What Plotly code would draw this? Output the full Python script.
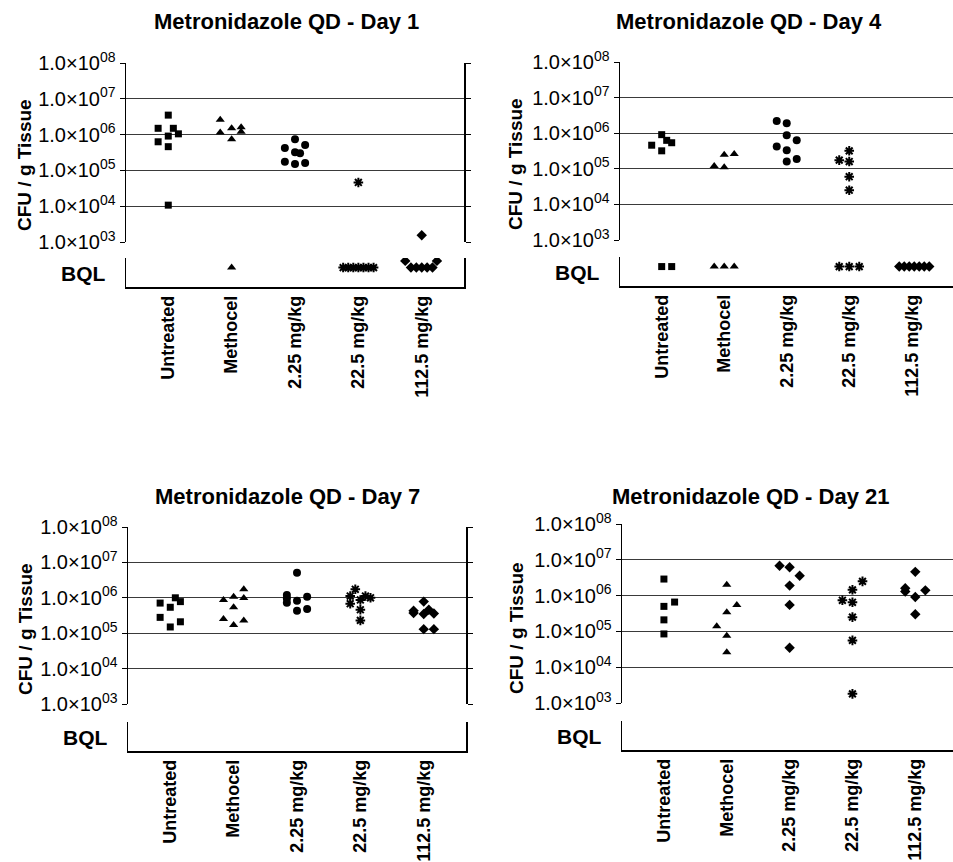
import plotly.graph_objects as go

W, H = 953, 862

categories = ["Untreated", "Methocel", "2.25 mg/kg", "22.5 mg/kg", "112.5 mg/kg"]
titles = ["Metronidazole QD - Day 1", "Metronidazole QD - Day 4",
          "Metronidazole QD - Day 7", "Metronidazole QD - Day 21"]
tick_vals = [1e3, 1e4, 1e5, 1e6, 1e7, 1e8]
tick_text = ["1.0×10<sup>03</sup>", "1.0×10<sup>04</sup>", "1.0×10<sup>05</sup>",
             "1.0×10<sup>06</sup>", "1.0×10<sup>07</sup>", "1.0×10<sup>08</sup>"]

# ---- Day 1 (CFU / g tissue), per group; jitter offsets in category units
day1_values = [
    [3.5e6, 1.5e6, 1.5e6, 9.1e5, 1.05e6, 6.3e5, 4.6e5, 1.07e4],
    [2.6e6, 1.15e6, 1.5e6, 7.4e5, 1.6e6, 1.2e6],
    [7.4e5, 4.2e5, 5.1e5, 3.2e5, 3.0e5, 1.74e5, 1.5e5, 1.6e5],
    [4.6e4],
    [1.55e3],
]
day1_offsets = [
    [0, -0.16, 0.08, 0, 0.16, -0.16, 0, 0],
    [-0.18, -0.18, 0, 0, 0.15, 0.15],
    [0, -0.16, 0.16, 0, 0.08, -0.16, 0, 0.16],
    [0],
    [0],
]
# BQL points: level inside the BQL strip (0 = bottom, 1 = top)
day1_bql = [[], [0.67], [], [0.67] * 7, [0.9, 0.67, 0.67, 0.67, 0.67, 0.67, 0.9]]
day1_bql_offsets = [[], [0], [], [-0.24, -0.16, -0.08, 0, 0.08, 0.16, 0.24],
                    [-0.26, -0.17, -0.085, 0, 0.085, 0.17, 0.24]]

# ---- Day 4
day4_values = [
    [9.1e5, 4.6e5, 6.3e5, 5.4e5, 3.2e5],
    [1.2e5, 1.1e5, 2.5e5, 2.6e5],
    [2.2e6, 1.9e6, 8.7e5, 4.2e5, 6.3e5, 3.3e5, 1.6e5, 1.9e5],
    [3.2e5, 1.75e5, 1.6e5, 6.0e4, 2.5e4],
    [],
]
day4_offsets = [
    [0, -0.16, 0.08, 0.16, 0],
    [-0.16, 0, 0, 0.16],
    [-0.16, 0, 0, -0.16, 0.16, 0, 0, 0.16],
    [0, -0.16, 0, 0, 0],
    [],
]
day4_bql = [[0.67] * 2, [0.67] * 3, [], [0.67] * 3, [0.67] * 7]
day4_bql_offsets = [[0, 0.16], [-0.16, 0, 0.16], [], [-0.16, 0, 0.16],
                    [-0.2, -0.12, -0.04, 0.04, 0.12, 0.2, 0.28]]

# ---- Day 7
day7_values = [
    [7.1e5, 1.0e6, 7.8e5, 5.4e5, 2.8e5, 2.1e5, 1.5e5],
    [8.7e5, 1.07e6, 1.74e6, 9.8e5, 5.4e5, 2.5e5, 1.7e5, 2.3e5],
    [5.1e6, 1.2e6, 9.5e5, 7.2e5, 8.3e5, 1.07e6, 4.3e5, 4.8e5],
    [1.74e6, 1.12e6, 8.7e5, 1.12e6, 1.0e6, 6.8e5, 4.6e5, 2.3e5],
    [4.3e5, 3.7e5, 7.8e5, 4.6e5, 3.5e5, 3.6e5, 1.3e5, 1.3e5],
]
day7_offsets = [
    [-0.16, 0.08, 0.16, 0, -0.16, 0.16, 0],
    [-0.16, 0, 0.16, 0.16, 0, -0.16, 0, 0.16],
    [0, -0.16, -0.16, -0.16, 0, 0.16, 0, 0.16],
    [-0.08, -0.16, 0, 0.08, 0.16, -0.16, 0, 0],
    [-0.16, -0.16, 0, 0.08, 0, 0.16, 0, 0.16],
]
day7_bql = [[], [], [], [], []]
day7_bql_offsets = [[], [], [], [], []]

# ---- Day 21
day21_values = [
    [2.9e6, 5.0e5, 6.6e5, 2.1e5, 8.5e4],
    [2.0e6, 3.4e5, 5.5e5, 1.4e5, 7.6e4, 2.6e4],
    [6.8e6, 6.2e6, 3.6e6, 1.9e6, 5.5e5, 3.5e4],
    [2.5e6, 1.45e6, 7.4e5, 6.5e5, 2.5e5, 5.6e4, 1.8e3],
    [4.6e6, 1.6e6, 1.3e6, 1.4e6, 9.1e5, 3.0e5],
]
day21_offsets = [
    [0, 0, 0.17, 0, 0],
    [0, 0, 0.16, -0.16, 0, 0],
    [-0.16, 0, 0.16, 0, 0, 0],
    [0.16, 0, -0.16, 0, 0, 0, 0],
    [0, -0.16, -0.16, 0.16, 0, 0],
]
day21_bql = [[], [], [], [], []]
day21_bql_offsets = [[], [], [], [], []]

symbols_std = ["square", "triangle-up", "circle", "asterisk-open", "diamond"]
symbols_d21 = ["square", "triangle-up", "diamond", "asterisk-open", "diamond"]

panels = [
    (day1_values, day1_offsets, day1_bql, day1_bql_offsets, symbols_std),
    (day4_values, day4_offsets, day4_bql, day4_bql_offsets, symbols_std),
    (day7_values, day7_offsets, day7_bql, day7_bql_offsets, symbols_std),
    (day21_values, day21_offsets, day21_bql, day21_bql_offsets, symbols_d21),
]

# ---- layout geometry (pixels)
# left, right, top(1e8), bottom(1e3), bql_top, bql_bottom, xrange_right, mirror
geo = [
    (126, 464, 63, 242, 258, 287, 4.667, True),
    (620, 953, 62, 240, 257, 286, 4.66, False),
    (128, 466, 527, 704, 722, 751, 4.667, True),
    (622, 953, 524, 703, 721, 750, 4.6, False),
]
title_pos = [(286, 22), (749, 22), (287, 497), (751, 497)]
ylab_pos = [(24, 165), (515, 164), (25, 629), (516, 628)]


def px(v):
    return v / W


def py(v):
    return 1 - v / H


sizes = {"square": 7, "triangle-up": 8, "circle": 8, "asterisk-open": 8, "diamond": 8}

fig = go.Figure()
layout = dict(width=W, height=H, margin=dict(l=0, r=0, t=0, b=0, pad=0), autosize=False,
              template="none",
              paper_bgcolor="white", plot_bgcolor="white", showlegend=False,
              font=dict(family="Liberation Sans, Arial, sans-serif", color="black"))
annotations = []

for i, (vals, offs, bql, bqloffs, syms) in enumerate(panels):
    left, right, top, bot, btop, bbot, xr, mirror = geo[i]
    xid = i + 1
    yu = 2 * i + 1
    yb = 2 * i + 2
    xname = "x" if xid == 1 else f"x{xid}"
    yuname = "y" if yu == 1 else f"y{yu}"
    ybname = f"y{yb}"

    # register the BQL strip even when it has no points
    fig.add_trace(go.Scatter(x=[None], y=[None], mode="markers",
                             xaxis=xname, yaxis=ybname, hoverinfo="skip"))
    for g in range(len(categories)):
        sym = syms[g]
        mk = dict(symbol=sym, size=sizes[sym], color="black",
                  line=dict(color="black", width=2 if sym.startswith("asterisk") else 0))
        if vals[g]:
            fig.add_trace(go.Scatter(
                x=[g + o for o in offs[g]], y=vals[g], mode="markers",
                marker=mk, xaxis=xname, yaxis=yuname, hoverinfo="skip"))
        if bql[g]:
            fig.add_trace(go.Scatter(
                x=[g + o for o in bqloffs[g]], y=bql[g], mode="markers",
                marker=mk, xaxis=xname, yaxis=ybname, hoverinfo="skip"))

    xkey = "xaxis" if xid == 1 else f"xaxis{xid}"
    layout[xkey] = dict(
        domain=[px(left), px(right)], range=[-0.667, xr], anchor=ybname,
        showline=True, linecolor="black", linewidth=1.5, ticks="",
        tickvals=list(range(len(categories))), ticktext=categories,
        tickangle=-90, tickfont=dict(size=18, weight="bold"),
        showgrid=False, zeroline=False, automargin=False, fixedrange=True)
    yukey = "yaxis" if yu == 1 else f"yaxis{yu}"
    layout[yukey] = dict(
        domain=[py(bot), py(top)], type="log", range=[3, 8], anchor=xname,
        showline=True, linecolor="black", linewidth=1.5,
        mirror="ticks" if mirror else False,
        ticks="outside", ticklen=5, tickcolor="black", tickwidth=1,
        tickvals=tick_vals, ticktext=tick_text, tickfont=dict(size=20),
        showgrid=True, gridcolor="#3a3a3a", gridwidth=1, zeroline=False,
        automargin=False, fixedrange=True)
    layout[f"yaxis{yb}"] = dict(
        domain=[py(bbot), py(btop)], range=[0, 1], anchor=xname,
        showline=True, linecolor="black", linewidth=1.5,
        mirror="ticks" if mirror else False,
        ticks="inside", tickvals=[1], ticklen=6, tickcolor="black", tickwidth=1.5,
        showticklabels=False, showgrid=False, zeroline=False, automargin=False,
        fixedrange=True)

    tx, ty = title_pos[i]
    annotations.append(dict(text=titles[i], xref="paper", yref="paper",
                            x=px(tx), y=py(ty), xanchor="center", yanchor="middle",
                            showarrow=False, font=dict(size=22, weight="bold")))
    lx, ly = ylab_pos[i]
    annotations.append(dict(text="CFU / g Tissue", xref="paper", yref="paper",
                            x=px(lx), y=py(ly), xanchor="center", yanchor="middle",
                            textangle=-90, showarrow=False,
                            font=dict(size=19, weight="bold")))
    annotations.append(dict(text="BQL", xref="paper", yref="paper",
                            x=px(left - 18), y=py((btop + bbot) / 2 + 1),
                            xanchor="right", yanchor="middle", showarrow=False,
                            font=dict(size=21, weight="bold")))

layout["annotations"] = annotations
fig.update_layout(**layout)
fig.write_html("out.html", config={"displayModeBar": False, "staticPlot": True},
               post_script="document.body.style.margin='0';document.body.style.overflow='hidden';")
